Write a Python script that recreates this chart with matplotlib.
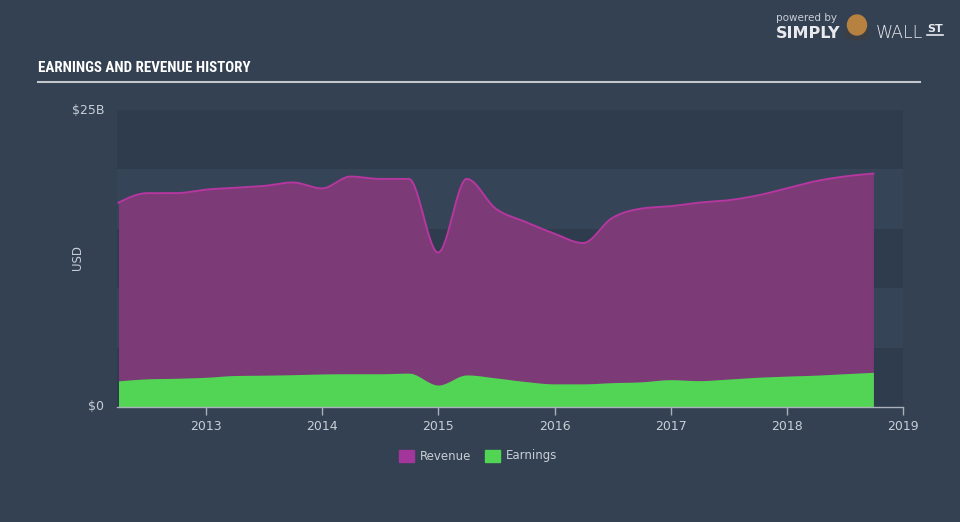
import numpy as np
import pandas as pd
import matplotlib
matplotlib.use("Agg")
import matplotlib.pyplot as plt
from matplotlib.patches import Rectangle, Circle, Ellipse
from matplotlib import font_manager

# ---- data (USD billions, quarterly, trailing) ----
dates = pd.date_range("2012-03-31", "2018-09-30", freq="QE")
revenue = [17.2, 18.0, 18.0, 18.3, 18.45, 18.6, 18.9, 18.4, 19.4, 19.2, 19.2, 13.0,
           19.2, 16.7, 15.6, 14.6, 13.8, 15.9, 16.7, 16.9, 17.2, 17.4, 17.8, 18.4,
           19.0, 19.4, 19.65]
earnings = [2.2, 2.37, 2.42, 2.5, 2.65, 2.68, 2.72, 2.78, 2.8, 2.8, 2.85, 1.85,
            2.7, 2.45, 2.15, 1.95, 1.95, 2.05, 2.12, 2.3, 2.22, 2.35, 2.5, 2.6,
            2.68, 2.8, 2.92]
year_ticks = [2013, 2014, 2015, 2016, 2017, 2018, 2019]
y_ticks = [0, 25]
y_labels = ["$0", "$25B"]
series_names = ["Revenue", "Earnings"]


def dec_year(d):
    start = pd.Timestamp(year=d.year, month=1, day=1)
    end = pd.Timestamp(year=d.year + 1, month=1, day=1)
    return d.year + (d - start) / (end - start)


def monotone_x(x, y, n=30):
    """Render a d3-style monotoneX curve through the given points."""
    x = np.asarray(x, float)
    y = np.asarray(y, float)
    h = np.diff(x)
    s = np.diff(y) / h
    m = np.zeros_like(y)
    for i in range(1, len(x) - 1):
        p = (s[i - 1] * h[i] + s[i] * h[i - 1]) / (h[i - 1] + h[i])
        m[i] = (np.sign(s[i - 1]) + np.sign(s[i])) * min(abs(s[i - 1]), abs(s[i]), 0.5 * abs(p))
    m[0] = (3 * s[0] - m[1]) / 2
    m[-1] = (3 * s[-1] - m[-2]) / 2
    xs, ys = [], []
    for i in range(len(x) - 1):
        t = np.linspace(0, 1, n, endpoint=(i == len(x) - 2))
        h00 = 2 * t**3 - 3 * t**2 + 1
        h10 = t**3 - 2 * t**2 + t
        h01 = -2 * t**3 + 3 * t**2
        h11 = t**3 - t**2
        xs.append(x[i] + t * h[i])
        ys.append(h00 * y[i] + h10 * h[i] * m[i] + h01 * y[i + 1] + h11 * h[i] * m[i + 1])
    return np.concatenate(xs), np.concatenate(ys)


xd = np.array([dec_year(d) for d in dates])
xr, yr = monotone_x(xd, revenue)
xe, ye = monotone_x(xd, earnings)

BG = "#334152"
TXT = "#c9ced6"

fig = plt.figure(figsize=(9.6, 5.22), dpi=100, facecolor=BG)
W, H = 960, 522
ax = fig.add_axes([117 / W, (H - 407) / H, (903 - 117) / W, (407 - 110) / H])
ax.set_facecolor(BG)
ax.set_xlim(xd[0] - 0.013, 2019.0)
ax.set_ylim(0, 25)

# alternating bands
band_cols = ["#2f3c4d", "#354457"]
for i in range(5):
    ax.axhspan(i * 5, (i + 1) * 5, color=band_cols[i % 2], lw=0, zorder=0)

ax.fill_between(xr, 0, yr, color="#7c3a77", lw=0, zorder=2)
ax.plot(xr, yr, color="#b5379f", lw=1.4, zorder=3)
ax.fill_between(xe, 0, ye, color="#52d454", lw=0, zorder=4)

for sp in ["top", "right", "left"]:
    ax.spines[sp].set_visible(False)
ax.spines["bottom"].set_color("#a9b1bb")
ax.spines["bottom"].set_linewidth(1.0)
ax.spines["bottom"].set_zorder(6)

ax.set_xticks(year_ticks)
ax.set_xticklabels([str(y) for y in year_ticks])
ax.tick_params(axis="x", colors="#a9b1bb", length=6, width=1, labelcolor=TXT,
               labelsize=9, pad=3)
ax.set_yticks([])

for v, lab in zip(y_ticks, y_labels):
    ax.text(-0.016, v, lab, transform=ax.get_yaxis_transform(), ha="right",
            va="center", color=TXT, fontsize=9)
fig.text(77 / W, 1 - 258 / H, "USD", rotation=90, ha="center", va="center",
         color=TXT, fontsize=8.5)

# title: pick a narrow font if available, then fit its width
names = {f.name for f in font_manager.fontManager.ttflist}
title_family = "DejaVu Sans"
title_stretch = "normal"
for cand in ["Liberation Sans Narrow", "Roboto Condensed", "Open Sans Condensed",
             "DejaVu Sans Condensed"]:
    if cand in names:
        title_family = cand
        break
else:
    title_stretch = "condensed"

title = fig.text(38 / W, 1 - 68 / H, "EARNINGS AND REVENUE HISTORY", ha="left",
                 va="center", color="white", fontsize=12, fontweight="bold",
                 family=title_family, fontstretch=title_stretch)
renderer = fig.canvas.get_renderer()
wpx = title.get_window_extent(renderer).width
title.set_fontsize(min(13.5, 12 * 212 / wpx))

fig.add_artist(plt.Line2D([38 / W, 920 / W], [1 - 81.5 / H, 1 - 81.5 / H],
                          color="#c3c7cc", lw=1.5))

# logo
fig.text(776 / W, 1 - 18 / H, "powered by", color="#c9ced6", fontsize=7.5,
         ha="left", va="center")
fig.text(776 / W, 1 - 33 / H, "SIMPLY", color="#e8eaed", fontsize=11.5,
         fontweight="bold", ha="left", va="center")
fig.add_artist(Circle((857 / W, 1 - 33 / H), 13 / W, transform=fig.transFigure,
                      color="#3a3f47", zorder=5))
fig.add_artist(Ellipse((857 / W, 1 - 25 / H), 19 / W, 20 / H, transform=fig.transFigure,
                       color="#b7823f", zorder=6))
fig.text(876 / W, 1 - 33 / H, "WALL", color="#e8eaed", fontsize=12.5,
         fontweight="light", ha="left", va="center")
fig.text(927 / W, 1 - 29 / H, "ST", color="#e8eaed", fontsize=8,
         fontweight="bold", ha="left", va="center")
fig.add_artist(plt.Line2D([927 / W, 943 / W], [1 - 35 / H, 1 - 35 / H],
                          color="#e8eaed", lw=1.2))

# legend
leg_y = 1 - 456 / H
fig.add_artist(Rectangle((399 / W, leg_y - 6 / H), 15 / W, 12 / H,
                         transform=fig.transFigure, color="#a3369b"))
fig.text(420 / W, leg_y, series_names[0], color=TXT, fontsize=8.5, ha="left", va="center")
fig.add_artist(Rectangle((485 / W, leg_y - 6 / H), 15 / W, 12 / H,
                         transform=fig.transFigure, color="#52d454"))
fig.text(506 / W, leg_y, series_names[1], color=TXT, fontsize=8.5, ha="left", va="center")

fig.savefig("out.png", dpi=100, facecolor=BG)
